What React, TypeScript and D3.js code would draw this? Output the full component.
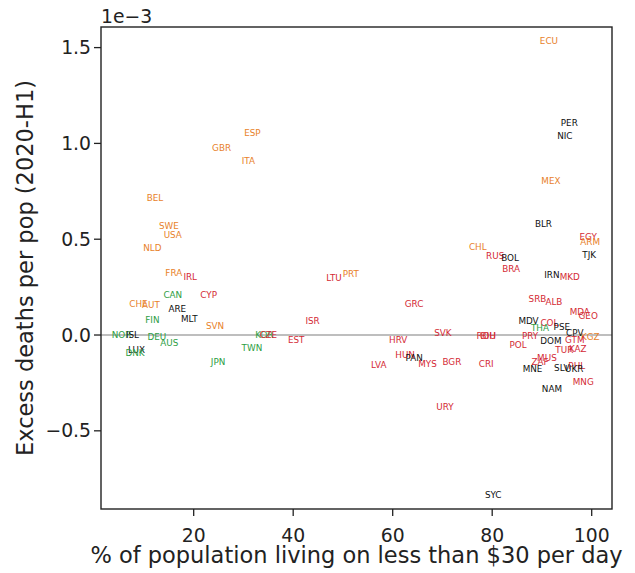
import React from "react";
import * as d3 from "d3";

// Country codes (label text)
const countries = [
  "ECU","PER","NIC","ESP","GBR","ITA","MEX","BEL","BLR","SWE","USA","EGY","ARM","CHL","NLD","TJK",
  "RUS","BOL","BRA","FRA","PRT","IRN","IRL","MKD","LTU","CAN","CYP","SRB","ALB","GRC","CHE","AUT",
  "ARE","MDA","GEO","MLT","FIN","MDV","ISR","COL","SVN","PSE","THA","CPV","SVK","NOR","ISL","KOR",
  "CZE","ROU","BIH","PRY","KGZ","DEU","GTM","EST","HRV","DOM","AUS","POL","TWN","KAZ","TUR","LUX",
  "DNK","HUN","PAN","MUS","BGR","ZAF","JPN","MYS","CRI","LVA","PHL","SLV","UKR","MNE","MNG","NAM",
  "URY","SYC"
];

// % of population living on less than $30 per day
const povertyPct = [
  91.4,95.5,94.6,31.8,25.6,31.0,91.8,12.2,90.3,15.0,15.8,99.3,99.7,77.1,11.7,99.5,
  80.6,83.6,83.8,16.0,51.6,92.0,19.3,95.6,48.2,15.8,23.0,89.1,92.4,64.3,8.9,11.4,
  16.7,97.6,99.3,19.1,11.7,87.3,43.9,91.5,24.3,94.0,89.6,96.6,70.1,5.5,7.7,34.2,
  35.0,78.8,79.2,87.6,99.7,12.6,96.6,40.6,61.1,91.8,15.1,85.2,31.7,97.2,94.5,8.5,
  8.2,62.5,64.3,91.0,71.9,89.6,24.9,67.0,78.8,57.2,97.0,94.0,96.5,88.1,98.3,92.0,
  70.5,80.2
];

// Excess deaths per pop (2020-H1), in units of 1e-3
const excessDeaths = [
  1.534,1.105,1.039,1.053,0.978,0.908,0.805,0.713,0.579,0.570,0.522,0.513,0.487,0.461,0.454,0.418,
  0.412,0.400,0.344,0.322,0.318,0.311,0.304,0.302,0.296,0.207,0.207,0.186,0.171,0.163,0.160,0.155,
  0.136,0.122,0.101,0.085,0.080,0.075,0.072,0.064,0.045,0.040,0.035,0.012,0.009,0.0,-0.002,0.0,
  0.0,-0.003,-0.005,-0.004,-0.009,-0.009,-0.026,-0.026,-0.028,-0.030,-0.043,-0.052,-0.066,-0.075,-0.078,-0.078,
  -0.092,-0.106,-0.122,-0.122,-0.139,-0.139,-0.141,-0.153,-0.153,-0.158,-0.160,-0.174,-0.179,-0.179,-0.244,-0.280,
  -0.374,-0.835
];

// group of each country: o = orange, r = red, g = green, k = black
const groups = [
  "o","k","k","o","o","o","o","o","k","o","o","r","o","o","o","k",
  "r","k","r","o","o","k","r","r","r","g","r","r","r","r","o","o",
  "k","r","r","k","g","k","r","r","o","k","g","k","r","g","k","g",
  "r","r","r","r","o","g","r","r","r","k","g","r","g","r","r","k",
  "g","r","k","r","r","r","g","r","r","r","r","k","k","k","r","k",
  "r","k"
];

const groupKeys = ["o", "r", "g", "k"];
const groupColors = ["#e8822b", "#d42a35", "#2e9e44", "#111111"];

const xTicks = [20, 40, 60, 80, 100];
const yTicks = [-0.5, 0.0, 0.5, 1.0, 1.5];

const W = 635;
const H = 573;
const L = 101, R = 612, T = 27, B = 509;

export default function App() {
  const x = d3.scaleLinear().domain([1.37, 104.08]).range([L, R]);
  const y = d3.scaleLinear().domain([-0.908, 1.6075]).range([B, T]);
  const color = d3.scaleOrdinal<string, string>().domain(groupKeys).range(groupColors);
  const font = "DejaVu Sans, sans-serif";
  const axisColor = "#222";
  const fmtY = (v: number) => (v < 0 ? "\u2212" : "") + Math.abs(v).toFixed(1);

  return (
    <svg
      width={W}
      height={H}
      style={{ position: "fixed", left: 0, top: 0, background: "#fff" }}
      fontFamily={font}
    >
      <rect x={0} y={0} width={W} height={H} fill="#fff" />
      {/* zero line */}
      <line x1={L} x2={R} y1={y(0)} y2={y(0)} stroke="#a8a8a8" strokeWidth={1.6} />

      {/* labels */}
      {countries.map((c, i) => (
        <text
          key={c + i}
          x={x(povertyPct[i])}
          y={y(excessDeaths[i])}
          textAnchor="middle"
          dominantBaseline="central"
          fontSize={8.8}
          fill={color(groups[i])}
        >
          {c}
        </text>
      ))}

      {/* frame */}
      <rect x={L} y={T} width={R - L} height={B - T} fill="none" stroke={axisColor} strokeWidth={1.4} />

      {/* x ticks */}
      {xTicks.map((t) => (
        <g key={"x" + t}>
          <line x1={x(t)} x2={x(t)} y1={B} y2={B + 7} stroke={axisColor} strokeWidth={1.3} />
          <text x={x(t)} y={542} textAnchor="middle" fontSize={18.8} fill={axisColor}>
            {t}
          </text>
        </g>
      ))}

      {/* y ticks */}
      {yTicks.map((t) => (
        <g key={"y" + t}>
          <line x1={L - 7} x2={L} y1={y(t)} y2={y(t)} stroke={axisColor} strokeWidth={1.3} />
          <text
            x={L - 10}
            y={y(t)}
            textAnchor="end"
            dominantBaseline="central"
            fontSize={18.8}
            fill={axisColor}
          >
            {fmtY(t)}
          </text>
        </g>
      ))}

      {/* offset text */}
      <text x={L} y={23} fontSize={18.8} fill={axisColor}>
        1e{"\u2212"}3
      </text>

      {/* axis labels */}
      <text x={(L + R) / 2} y={563} textAnchor="middle" fontSize={22.5} fill={axisColor}>
        % of population living on less than $30 per day
      </text>
      <text
        transform={`translate(33, ${(T + B) / 2}) rotate(-90)`}
        textAnchor="middle"
        fontSize={22.5}
        fill={axisColor}
      >
        Excess deaths per pop (2020-H1)
      </text>
    </svg>
  );
}
